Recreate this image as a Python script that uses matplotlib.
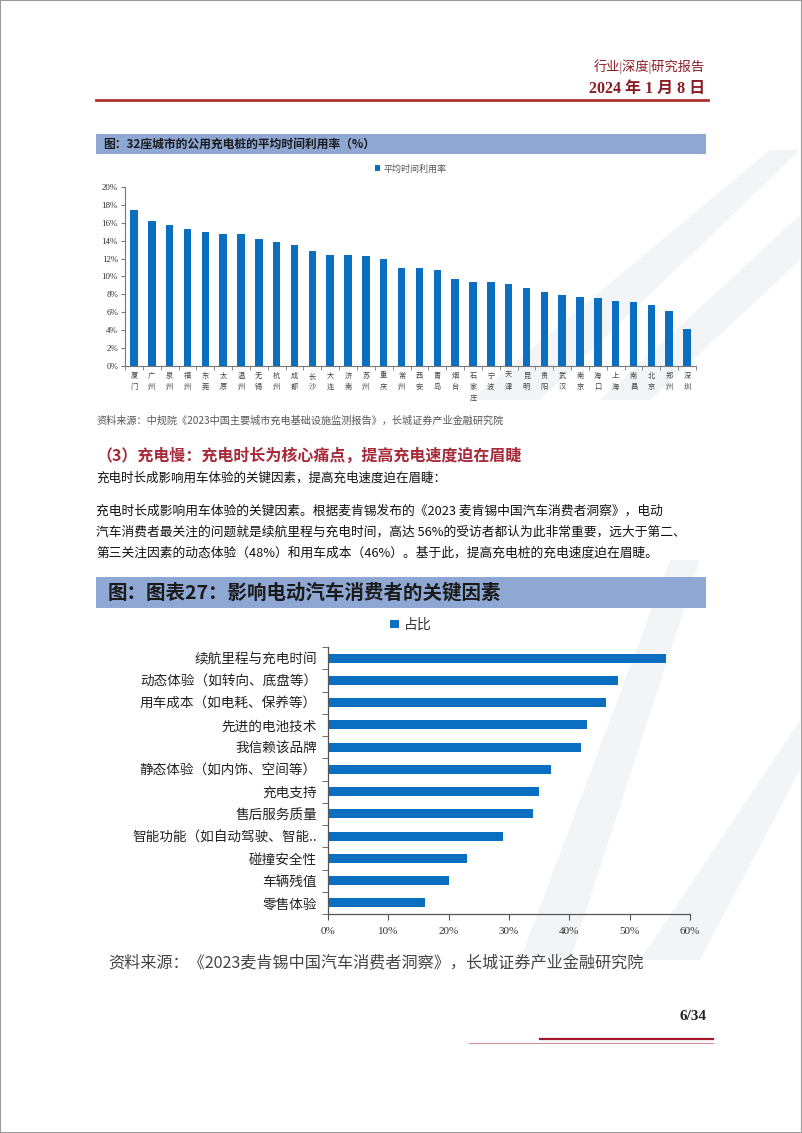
import matplotlib.pyplot as plt
from matplotlib.patches import Rectangle, Polygon
import numpy as np

# ---- data ----
cities = ['厦门', '广州', '泉州', '福州', '东莞', '太原', '温州', '无锡', '杭州', '成都',
          '长沙', '大连', '济南', '苏州', '重庆', '常州', '西安', '青岛', '烟台', '石家庄',
          '宁波', '天津', '昆明', '贵阳', '武汉', '南京', '海口', '上海', '南昌', '北京',
          '郑州', '深圳']
usage_rate = [17.4, 16.2, 15.8, 15.3, 15.0, 14.8, 14.8, 14.2, 13.8, 13.5,
              12.9, 12.4, 12.4, 12.3, 11.9, 11.0, 10.9, 10.7, 9.7, 9.4,
              9.4, 9.2, 8.7, 8.3, 7.9, 7.7, 7.6, 7.3, 7.1, 6.8,
              6.1, 4.1]
usage_ticks = [0, 2, 4, 6, 8, 10, 12, 14, 16, 18, 20]

factors = ['续航里程与充电时间', '动态体验（如转向、底盘等）', '用车成本（如电耗、保养等）',
           '先进的电池技术', '我信赖该品牌', '静态体验（如内饰、空间等）', '充电支持',
           '售后服务质量', '智能功能（如自动驾驶、智能..', '碰撞安全性', '车辆残值', '零售体验']
share = [56, 48, 46, 43, 42, 37, 35, 34, 29, 23, 20, 16]
share_ticks = [0, 10, 20, 30, 40, 50, 60]

W, H = 802, 1133
BAR = '#0b6fc1'
BAND = '#8ea8d3'
RED = '#a52a3a'
CJK = ['Noto Sans CJK SC', 'DejaVu Sans']
SERIF = ['Liberation Serif', 'Noto Sans CJK SC']

plt.rcParams['font.family'] = CJK

fig = plt.figure(figsize=(W / 100, H / 100), dpi=100)


def fx(x):
    return x / W


def fy(y):
    return 1 - y / H


def txt(x, y, s, **kw):
    fig.text(fx(x), fy(y), s, **kw)


def axes_px(l, t, r, b):
    return fig.add_axes([fx(l), fy(b), (r - l) / W, (b - t) / H])


# page border and faint watermark bands (kept behind everything)
fig.patches.append(Rectangle((0, 0), 1, 1, transform=fig.transFigure, fill=False,
                             edgecolor='#9a9a9a', lw=1.5, zorder=-2))
for pts in ([(470, 400), (540, 400), (800, 150), (770, 150)],
            [(600, 400), (650, 400), (800, 260), (800, 215)],
            [(520, 960), (570, 960), (700, 560), (670, 560)],
            [(640, 960), (800, 720), (800, 770), (700, 960)]):
    fig.patches.append(Polygon([(fx(a), fy(b)) for a, b in pts], closed=True,
                               transform=fig.transFigure, facecolor='#f2f4f8',
                               edgecolor='none', zorder=-2))

# header
txt(705, 67, '行业|深度|研究报告', ha='right', va='center', fontsize=9.5,
    color='#8b1c24', family=SERIF)
txt(705, 89, '2024 年 1 月 8 日', ha='right', va='center', fontsize=11.5,
    color='#8b1c24', family=SERIF, fontweight='bold')
fig.add_artist(plt.Line2D([fx(96), fx(708)], [fy(100), fy(100)], color='#b03030', lw=2))

# chart 1 title band
fig.patches.append(Rectangle((fx(96), fy(154)), (706 - 96) / W, 20 / H,
                             transform=fig.transFigure, facecolor=BAND, edgecolor='none'))
txt(103, 144, '图：32座城市的公用充电桩的平均时间利用率（%）', va='center', fontsize=8.5,
    fontweight='bold', color='#1a1a1a')

# chart 1
ax1 = axes_px(125, 187, 696, 366)
x1 = np.arange(len(cities))
ax1.bar(x1, usage_rate, width=0.42, color=BAR, label='平均时间利用率')
ax1.set_xlim(-0.5, len(cities) - 0.5)
ax1.set_ylim(0, 20)
ax1.set_yticks(usage_ticks)
ax1.set_yticklabels([f'{v}%' for v in usage_ticks], family=SERIF, fontsize=6.5, color='#333333')
ax1.set_xticks(x1)
ax1.set_xticklabels(['\n'.join(c) for c in cities], fontsize=5.2, color='#444444',
                    va='top', linespacing=1.5)
ax1.set_xticks(np.arange(-0.5, len(cities)), minor=True)
ax1.tick_params(axis='x', which='major', length=0, pad=4)
ax1.tick_params(axis='x', which='minor', length=3, color='#777777')
ax1.tick_params(axis='y', length=3, color='#777777', pad=2)
for s in ['top', 'right']:
    ax1.spines[s].set_visible(False)
for s in ['left', 'bottom']:
    ax1.spines[s].set_color('#777777')
    ax1.spines[s].set_linewidth(0.8)
ax1.patch.set_alpha(0)
ax1.legend(loc='lower center', bbox_to_anchor=(0.5, 1.03), frameon=False, fontsize=6.5,
           handlelength=0.6, handleheight=0.6, handletextpad=0.3, labelcolor='#555555')

txt(96, 421, '资料来源：中规院《2023中国主要城市充电基础设施监测报告》，长城证券产业金融研究院',
    va='center', fontsize=7.3, color='#555555')

# section text
txt(96, 456, '（3）充电慢：充电时长为核心痛点，提高充电速度迫在眉睫', va='center',
    fontsize=11.5, fontweight='bold', color=RED)
txt(96, 478, '充电时长成影响用车体验的关键因素，提高充电速度迫在眉睫：', va='center',
    fontsize=9, color='#111111')
para = ['充电时长成影响用车体验的关键因素。根据麦肯锡发布的《2023 麦肯锡中国汽车消费者洞察》，电动',
        '汽车消费者最关注的问题就是续航里程与充电时间，高达 56%的受访者都认为此非常重要，远大于第二、',
        '第三关注因素的动态体验（48%）和用车成本（46%）。基于此，提高充电桩的充电速度迫在眉睫。']
for i, line in enumerate(para):
    txt(96, 511 + 21 * i, line, va='center', fontsize=9.2, color='#111111')

# chart 2 title band
fig.patches.append(Rectangle((fx(96), fy(608)), (706 - 96) / W, 31 / H,
                             transform=fig.transFigure, facecolor=BAND, edgecolor='none'))
txt(108, 593, '图：图表27：影响电动汽车消费者的关键因素', va='center', fontsize=14,
    fontweight='bold', color='#1a1a1a')

# chart 2
ax2 = axes_px(328, 647, 690, 914)
y2 = np.arange(len(factors))
ax2.barh(y2, share, height=0.4, color=BAR, label='占比')
ax2.set_ylim(len(factors) - 0.5, -0.5)
ax2.set_xlim(0, 60)
ax2.set_xticks(share_ticks)
ax2.set_xticklabels([f'{v}%' for v in share_ticks], family=SERIF, fontsize=8, color='#333333')
ax2.set_yticks(y2)
ax2.set_yticklabels(factors, fontsize=9.8, color='#222222')
ax2.set_yticks(np.arange(-0.5, len(factors)), minor=True)
ax2.tick_params(axis='y', which='major', length=0, pad=8)
ax2.tick_params(axis='y', which='minor', length=4, color='#555555')
ax2.tick_params(axis='x', length=4, color='#555555', pad=5)
for s in ['top', 'right']:
    ax2.spines[s].set_visible(False)
for s in ['left', 'bottom']:
    ax2.spines[s].set_color('#555555')
    ax2.spines[s].set_linewidth(0.9)
ax2.patch.set_alpha(0)
ax2.legend(loc='lower center', bbox_to_anchor=(0.23, 1.01), frameon=False, fontsize=10,
           handlelength=0.6, handleheight=0.6, handletextpad=0.4, labelcolor='#333333')

txt(108, 963, '资料来源：《2023麦肯锡中国汽车消费者洞察》，长城证券产业金融研究院',
    va='center', fontsize=11.6, color='#444444')

# footer
txt(706, 1017, '6/34', ha='right', va='center', fontsize=11, fontweight='bold',
    family=SERIF, color='#222222')
fig.add_artist(plt.Line2D([fx(540), fx(713)], [fy(1039), fy(1039)], color='#a3192b', lw=1.6))
fig.add_artist(plt.Line2D([fx(469), fx(713)], [fy(1042.5), fy(1042.5)], color='#d49098', lw=0.8))

fig.savefig('out.png', dpi=100)
